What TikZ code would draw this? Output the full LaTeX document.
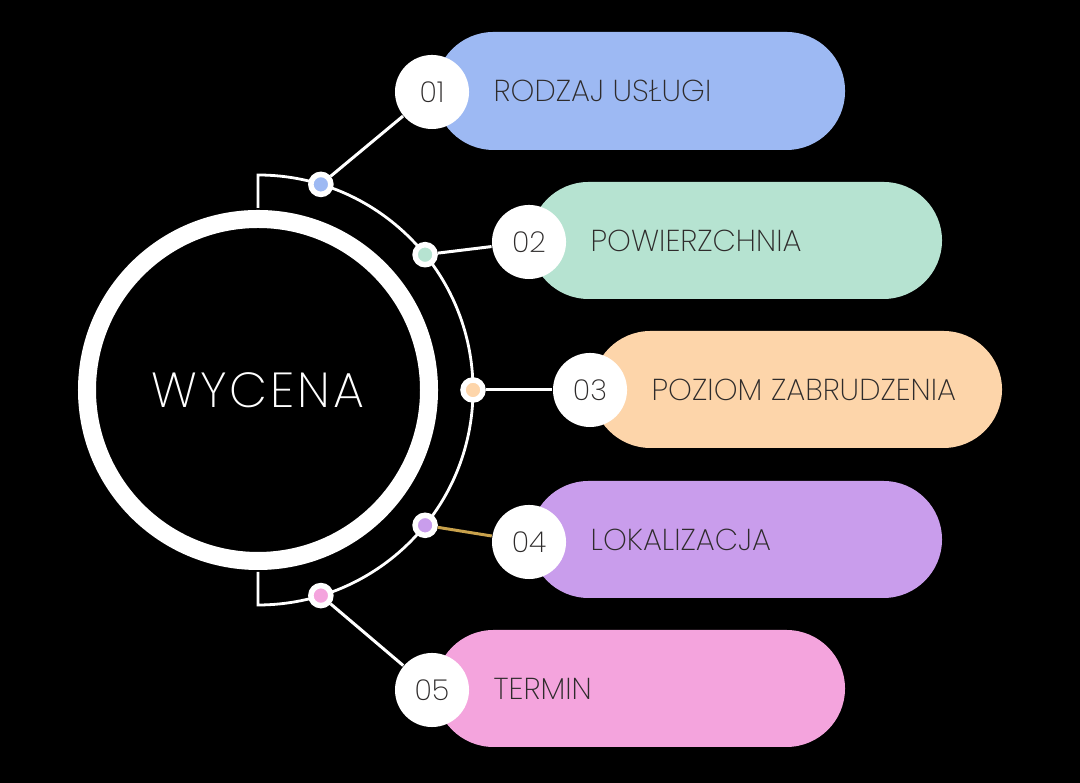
\documentclass[tikz,border=0pt]{standalone}
\usepackage{fontspec}
\setmainfont{Poppins}[UprightFont=* ExtraLight]
\definecolor{blueA}{HTML}{9DB9F3}
\definecolor{mintA}{HTML}{B6E3D1}
\definecolor{peachA}{HTML}{FDD5AA}
\definecolor{lilacA}{HTML}{C99DEC}
\definecolor{pinkA}{HTML}{F4A4DD}
\definecolor{goldA}{HTML}{C9A24C}
\definecolor{inkA}{HTML}{2E2B2B}
\begin{document}
\begin{tikzpicture}[x=0.01cm,y=0.01cm]

	\tikzset{dot/.style={circle, draw=white, line width=0.055cm, minimum size=0.2cm, inner sep=0pt}}
	\tikzset{numbox/.style={circle, fill=white, minimum size=0.74cm, inner sep=0pt, text=inkA, font=\fontsize{8.2}{9}\selectfont}}
	\tikzset{lbl/.style={anchor=west, text=inkA, inner sep=0pt, font=\fontsize{8.6}{10}\selectfont}}
	\tikzset{link/.style={white, line width=0.03cm}}

	\fill[black] (0,0) rectangle (1080,783);

	\coordinate (c) at (258,393);

	% ring and arc
	\draw[white, line width=0.18cm] (c) circle (171);
	\draw[white, line width=0.028cm] (258,575) -- (258,608) arc (90:-90:215) -- (258,211);
	\node[font=\fontsize{14}{15}\selectfont\addfontfeatures{LetterSpace=6}, text=white] (main) at (c) {WYCENA};

	% pills
	\fill[blueA, rounded corners=0.585cm] (435,633) rectangle (845,751);
	\fill[mintA, rounded corners=0.585cm] (530,484) rectangle (942,601);
	\fill[peachA, rounded corners=0.585cm] (592,335) rectangle (1002,452);
	\fill[lilacA, rounded corners=0.585cm] (530,185) rectangle (942,302);
	\fill[pinkA, rounded corners=0.585cm] (435,36) rectangle (845,153);

	\node[lbl] (t1) at (493,692) {RODZAJ USŁUGI};
	\node[lbl] (t2) at (590,542) {POWIERZCHNIA};
	\node[lbl] (t3) at (651,393) {POZIOM ZABRUDZENIA};
	\node[lbl] (t4) at (590,243) {LOKALIZACJA};
	\node[lbl] (t5) at (493,94) {TERMIN};

	% dots on the arc
	\node[dot, fill=blueA] (d1) at ([shift={(73:215)}]c) {};
	\node[dot, fill=mintA] (d2) at ([shift={(39:215)}]c) {};
	\node[dot, fill=peachA] (d3) at ([shift={(0:215)}]c) {};
	\node[dot, fill=lilacA] (d4) at ([shift={(-39:215)}]c) {};
	\node[dot, fill=pinkA] (d5) at ([shift={(-73:215)}]c) {};

	\node[numbox] (n1) at (432,691) {01};
	\node[numbox] (n2) at (529,541) {02};
	\node[numbox] (n3) at (590,393) {03};
	\node[numbox] (n4) at (529,241) {04};
	\node[numbox] (n5) at (432,93) {05};

	\draw[link] (d1) -- (n1);
	\draw[link] (d2) -- (n2);
	\draw[link] (d3) -- (n3);
	\draw[link, goldA] (d4) -- (n4);
	\draw[link] (d5) -- (n5);

\end{tikzpicture}
\end{document}
